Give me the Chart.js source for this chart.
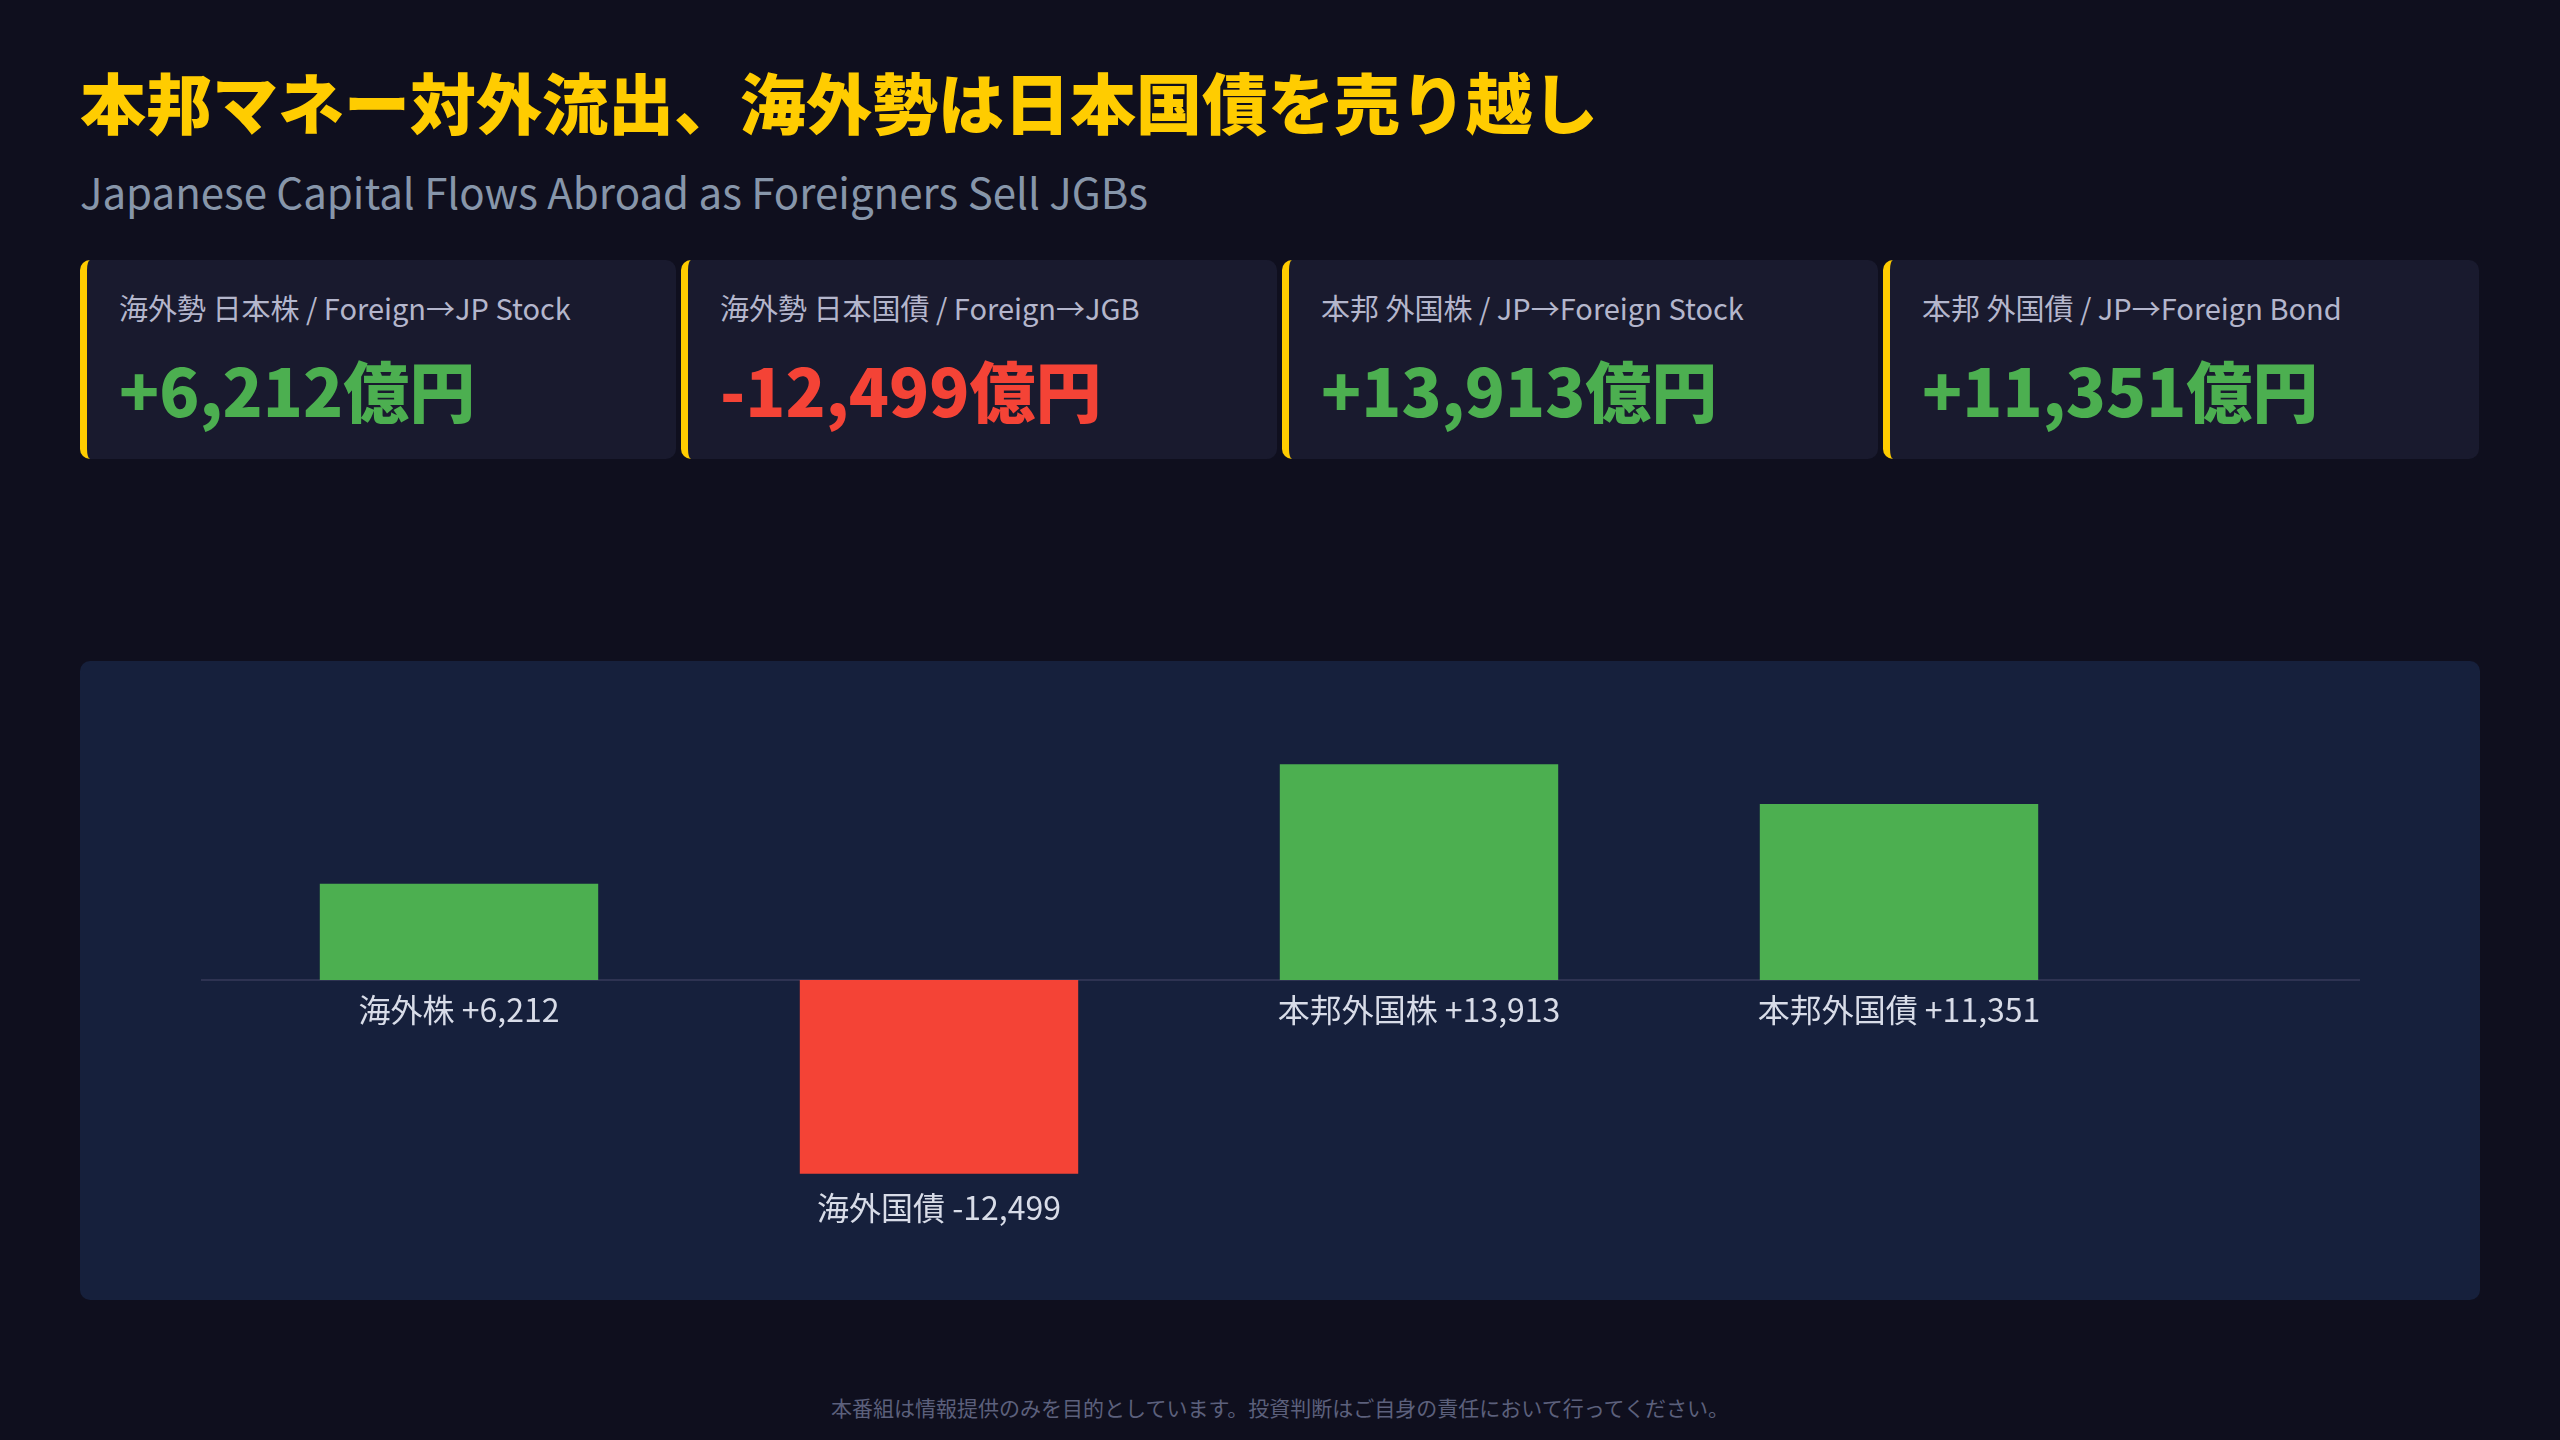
<!DOCTYPE html>
<html><head><meta charset="utf-8">
<script src="https://cdn.jsdelivr.net/npm/chart.js@4.4.1/dist/chart.umd.min.js"></script>
<style>
body{margin:0;width:2560px;height:1440px;background:#0f0f1e;font-family:"Noto Sans CJK JP","Noto Sans",sans-serif;position:relative;overflow:hidden}
#title{position:absolute;left:80px;top:52px;font-size:66px;font-weight:900;color:#ffcc00;white-space:nowrap}
#sub{position:absolute;left:80px;top:160px;font-size:42px;color:#8796aa;white-space:nowrap}
.card{position:absolute;top:260px;height:199px;width:596px;background:#191a2e;border-left:7px solid #ffcc00;border-radius:10px;box-sizing:border-box}
.card .l{position:absolute;left:32px;top:26px;font-size:29px;color:#b4b6cc;white-space:nowrap}
.card .v{position:absolute;left:32px;top:80px;font-size:66px;font-weight:900;white-space:nowrap}
#panel{position:absolute;left:80px;top:661px;width:2400px;height:639px;background:#16203c;border-radius:10px}
#foot{position:absolute;left:0;width:2560px;top:1392px;text-align:center;font-size:21px;color:#5c607c}
</style></head><body>
<div id="title">本邦マネー対外流出、海外勢は日本国債を売り越し</div>
<div id="sub">Japanese Capital Flows Abroad as Foreigners Sell JGBs</div>
<div id="cards"></div>
<div id="panel"><canvas id="c" width="2400" height="639"></canvas></div>
<div id="foot">本番組は情報提供のみを目的としています。投資判断はご自身の責任において行ってください。</div>
<script>
const cardLabels=["海外勢 日本株 / Foreign→JP Stock","海外勢 日本国債 / Foreign→JGB","本邦 外国株 / JP→Foreign Stock","本邦 外国債 / JP→Foreign Bond"];
const barLabels=["海外株","海外国債","本邦外国株","本邦外国債"];
const values=[6212,-12499,13913,11351];
const GREEN="#4caf50",RED="#f44336";
const fmt=v=>(v>0?"+":"")+v.toLocaleString("en-US");
const cards=document.getElementById("cards");
cardLabels.forEach((l,i)=>{const d=document.createElement("div");d.className="card";d.style.left=(80+i*601)+"px";
d.innerHTML=`<div class="l">${l}</div><div class="v" style="color:${values[i]>=0?GREEN:RED}">${fmt(values[i])}億円</div>`;cards.appendChild(d);});
const labelPlugin={id:"lab",
beforeDatasetsDraw(ch){const y=ch.scales.y.getPixelForValue(0);const c=ch.ctx;c.save();c.strokeStyle="#2e3352";c.lineWidth=2;c.beginPath();c.moveTo(121,y);c.lineTo(2280,y);c.stroke();c.restore();},
afterDatasetsDraw(ch){const c=ch.ctx;const meta=ch.getDatasetMeta(0);const y0=ch.scales.y.getPixelForValue(0);
c.save();c.font='32px "Noto Sans CJK JP"';c.fillStyle="#d8dce8";c.textAlign="center";c.textBaseline="middle";
meta.data.forEach((b,i)=>{const v=values[i];const y=v>=0?y0+30:b.y+34;c.fillText(barLabels[i]+" "+fmt(v),b.x,y);});c.restore();}};
new Chart(document.getElementById("c"),{type:"bar",
data:{labels:barLabels,datasets:[{data:values,backgroundColor:values.map(v=>v>=0?GREEN:RED),barPercentage:0.58,categoryPercentage:1}]},
options:{responsive:false,animation:false,layout:{padding:{left:139,right:341,top:9,bottom:10}},
plugins:{legend:{display:false},tooltip:{enabled:false}},
scales:{x:{display:false},y:{display:false,min:-20000,max:20000}}},
plugins:[labelPlugin]});
</script></body></html>
